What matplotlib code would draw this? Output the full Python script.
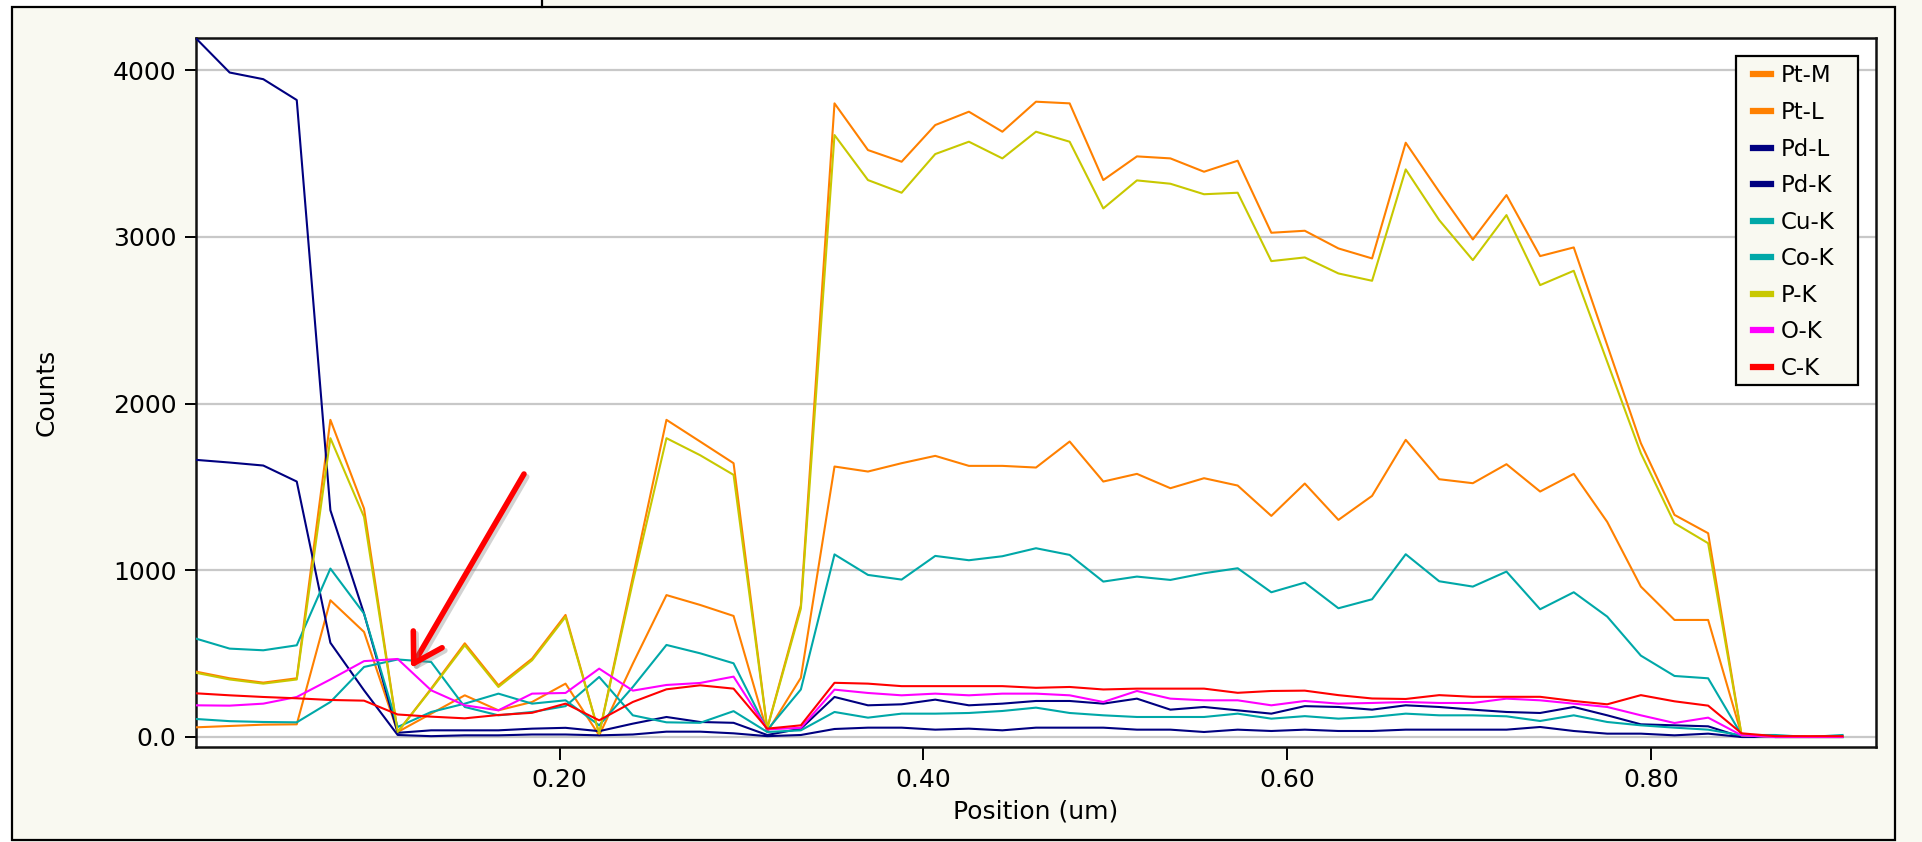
import matplotlib
matplotlib.use("Agg")
import matplotlib.pyplot as plt
import matplotlib.patheffects as pe
from matplotlib.patches import Rectangle
from matplotlib.lines import Line2D

# ---------------- data ----------------
position = [0.0, 0.0185, 0.0370, 0.0554, 0.0739, 0.0924, 0.1109, 0.1293, 0.1478, 0.1663,
            0.1848, 0.2032, 0.2217, 0.2402, 0.2587, 0.2772, 0.2956, 0.3141, 0.3326, 0.3511,
            0.3695, 0.3880, 0.4065, 0.4250, 0.4434, 0.4619, 0.4804, 0.4989, 0.5174, 0.5358,
            0.5543, 0.5728, 0.5913, 0.6097, 0.6282, 0.6467, 0.6652, 0.6836, 0.7021, 0.7206,
            0.7391, 0.7576, 0.7760, 0.7945, 0.8130, 0.8315, 0.8499, 0.8684, 0.8869, 0.9054]

pt_m = [392, 352, 326, 352, 1902, 1370, 30, 290, 562, 310,
        470, 732, 20, 960, 1902, 1772, 1642, 52, 790, 3800,
        3520, 3450, 3670, 3750, 3630, 3810, 3800, 3340, 3482, 3470,
        3390, 3456, 3024, 3036, 2930, 2870, 3564, 3270, 2984, 3250,
        2884, 2936, 2350, 1762, 1332, 1222, 10, 0, 0, 0]

pt_l = [58, 66, 74, 76, 820, 630, 30, 140, 250, 160,
        210, 320, 10, 440, 851, 792, 726, 30, 355, 1622,
        1592, 1642, 1686, 1626, 1626, 1616, 1772, 1532, 1578, 1492,
        1552, 1508, 1326, 1520, 1302, 1446, 1782, 1546, 1522, 1636,
        1472, 1578, 1290, 902, 702, 702, 12, 0, 0, 0]

pd_l = [4190, 3985, 3945, 3820, 1360, 740, 25, 40, 40, 40,
        50, 55, 35, 80, 120, 90, 85, 12, 50, 240,
        190, 196, 224, 190, 200, 216, 216, 200, 230, 164,
        180, 160, 140, 185, 180, 164, 190, 180, 164, 150,
        144, 180, 130, 76, 70, 64, 0, 0, 0, 0]

pd_k = [1662, 1646, 1628, 1532, 565, 280, 12, 5, 10, 10,
        15, 15, 10, 15, 32, 32, 22, 5, 12, 48,
        56, 56, 44, 50, 40, 56, 56, 56, 44, 44,
        30, 44, 36, 44, 36, 36, 44, 44, 44, 44,
        60, 36, 20, 20, 10, 20, 0, 0, 0, 0]

cu_k = [590, 530, 520, 550, 1010, 740, 60, 150, 200, 260,
        200, 220, 70, 300, 552, 502, 442, 42, 285, 1095,
        972, 944, 1086, 1060, 1084, 1132, 1092, 932, 962, 942,
        982, 1012, 868, 926, 772, 826, 1096, 934, 902, 992,
        766, 868, 722, 488, 366, 352, 12, 12, 0, 12]

co_k = [108, 95, 90, 88, 210, 420, 465, 450, 180, 130,
        150, 185, 360, 130, 88, 85, 155, 30, 40, 150,
        116, 140, 140, 144, 156, 176, 144, 130, 120, 120,
        120, 140, 110, 125, 110, 120, 140, 130, 130, 124,
        96, 130, 90, 70, 56, 44, 10, 0, 0, 0]

p_k = [385, 345, 320, 345, 1792, 1320, 30, 285, 550, 300,
       460, 720, 20, 930, 1792, 1690, 1572, 50, 770, 3610,
       3340, 3264, 3496, 3570, 3470, 3630, 3570, 3170, 3338, 3318,
       3255, 3264, 2854, 2876, 2780, 2736, 3404, 3100, 2860, 3130,
       2710, 2796, 2250, 1702, 1282, 1162, 10, 0, 0, 0]

o_k = [190, 188, 200, 240, 345, 455, 468, 280, 190, 160,
       260, 264, 410, 278, 312, 324, 362, 46, 55, 284,
       264, 250, 260, 250, 260, 260, 250, 210, 276, 230,
       220, 220, 190, 216, 200, 204, 210, 204, 204, 230,
       220, 200, 180, 130, 84, 116, 10, 0, 0, 0]

c_k = [262, 250, 240, 232, 222, 218, 135, 122, 112, 132,
       145, 200, 100, 210, 286, 310, 290, 50, 70, 325,
       320, 305, 305, 305, 305, 295, 300, 285, 290, 290,
       290, 265, 276, 278, 251, 231, 228, 251, 241, 241,
       241, 216, 196, 251, 214, 188, 22, 5, 5, 5]

series_names = ["Pt-M", "Pt-L", "Pd-L", "Pd-K", "Cu-K", "Co-K", "P-K", "O-K", "C-K"]
series_values = [pt_m, pt_l, pd_l, pd_k, cu_k, co_k, p_k, o_k, c_k]
series_colors = ["#FF8000", "#FF8000", "#000080", "#000080", "#00A8A8", "#00A8A8",
                 "#C8C800", "#FF00FF", "#FF0000"]

y_ticks = [0, 1000, 2000, 3000, 4000]
y_tick_labels = ["0.0", "1000", "2000", "3000", "4000"]
x_ticks = [0.20, 0.40, 0.60, 0.80]
x_tick_labels = ["0.20", "0.40", "0.60", "0.80"]

# ---------------- figure ----------------
W, H = 1922, 842
BG = "#F9F9F1"
plt.rcParams["font.family"] = ["DejaVu Sans"]

fig = plt.figure(figsize=(W / 100, H / 100), dpi=100, facecolor=BG)

def fx(px):
    return px / W

def fy(py):
    return 1 - py / H

# window frame decorations
fig.add_artist(Rectangle((0, fy(7)), fx(542), 7 / H, transform=fig.transFigure,
                         facecolor="white", edgecolor="none", zorder=0))
fig.add_artist(Rectangle((0, 0), fx(12), fy(7), transform=fig.transFigure,
                         facecolor="white", edgecolor="none", zorder=0))
fig.add_artist(Line2D([fx(542), fx(542)], [fy(7), 1], transform=fig.transFigure,
                      color="black", lw=1.6))
fig.add_artist(Rectangle((fx(12), 2 / H), fx(1895 - 12), (H - 7 - 2) / H,
                         transform=fig.transFigure, facecolor="none",
                         edgecolor="black", lw=1.6, zorder=1))

ax = fig.add_axes([fx(196), fy(746.5), fx(1876 - 196), (746.5 - 38) / H])
ax.set_facecolor("white")

for name, vals, col in zip(series_names, series_values, series_colors):
    ax.plot(position, vals, color=col, lw=1.5, label=name, zorder=3)

ax.set_xlim(0, 0.9238)
ax.set_ylim(-57, 4192)
ax.set_yticks(y_ticks)
ax.set_yticklabels(y_tick_labels)
ax.set_xticks(x_ticks)
ax.set_xticklabels(x_tick_labels)
ax.yaxis.grid(True, color="#C8C8C8", lw=1.6, zorder=0)
ax.set_axisbelow(True)
ax.tick_params(axis="both", labelsize=18, width=1.4, colors="black")
ax.tick_params(axis="y", length=8, pad=6)
ax.tick_params(axis="x", length=9.5, pad=6)
for s in ax.spines.values():
    s.set_linewidth(1.8)
    s.set_color("#111111")

fig.text(fx(47), fy(392), "Counts", rotation=90, ha="center", va="center", fontsize=18)
fig.text(fx(1036), fy(811), "Position (um)", ha="center", va="center", fontsize=18)

# legend: manual frame (inside axes, under the legend) + frameless legend
ax.add_patch(Rectangle((fx(1736), fy(385)), fx(1858 - 1736), (385 - 55.7) / H,
                       transform=fig.transFigure, facecolor=BG, edgecolor="black",
                       lw=1.6, zorder=8, clip_on=False))
leg = ax.legend(loc="upper left", bbox_to_anchor=(fx(1753), fy(64.5)),
                bbox_transform=fig.transFigure,
                fontsize=16.5, frameon=False, handlelength=0.79,
                handletextpad=0.44, labelspacing=0.59, borderpad=0, borderaxespad=0)
leg.set_zorder(9)
for h in leg.legend_handles:
    h.set_linewidth(4.5)

# red arrow annotation
ax.annotate("", xy=(fx(411), fy(668)), xytext=(fx(524), fy(474)),
            xycoords="figure fraction", textcoords="figure fraction",
            arrowprops=dict(arrowstyle="->,head_length=1.0,head_width=0.6",
                            mutation_scale=20, color="#FF0000", lw=4,
                            shrinkA=0, shrinkB=0,
                            path_effects=[pe.SimpleLineShadow(offset=(2, -2), shadow_color="gray", alpha=0.35),
                                          pe.Normal()]),
            zorder=10)

fig.savefig("out.png", dpi=100, facecolor=BG)
